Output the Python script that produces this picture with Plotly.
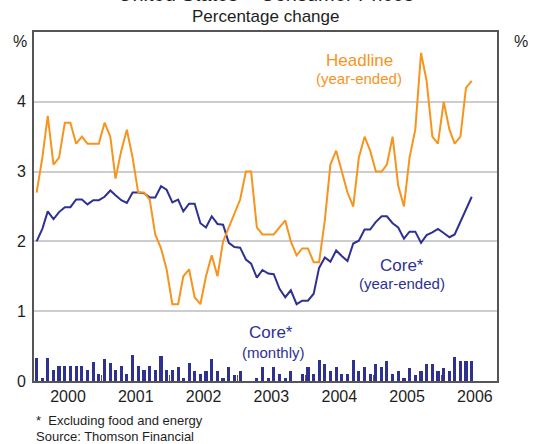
import pandas as pd
import plotly.graph_objects as go

# ---- data (monthly, Jan 2000 - Jun 2006) ----
start_month = "2000-01-01"
n_months = 78

headline = [
    2.7, 3.2, 3.8, 3.1, 3.2, 3.7, 3.7, 3.4, 3.5, 3.4, 3.4, 3.4,
    3.7, 3.5, 2.9, 3.3, 3.6, 3.2, 2.7, 2.7, 2.6, 2.1, 1.9, 1.6,
    1.1, 1.1, 1.5, 1.6, 1.2, 1.1, 1.5, 1.8, 1.5, 2.0, 2.2, 2.4,
    2.6, 3.0, 3.0, 2.2, 2.1, 2.1, 2.1, 2.2, 2.3, 2.0, 1.8, 1.9,
    1.9, 1.7, 1.7, 2.3, 3.1, 3.3, 3.0, 2.7, 2.5, 3.2, 3.5, 3.3,
    3.0, 3.0, 3.1, 3.5, 2.8, 2.5, 3.2, 3.6, 4.7, 4.3, 3.5, 3.4,
    4.0, 3.6, 3.4, 3.5, 4.2, 4.3,
]

core_year_ended = [
    2.00, 2.18, 2.43, 2.32, 2.42, 2.49, 2.49, 2.60, 2.60, 2.53, 2.59, 2.59,
    2.64, 2.73, 2.66, 2.59, 2.55, 2.70, 2.70, 2.69, 2.63, 2.63, 2.79, 2.74,
    2.56, 2.60, 2.43, 2.54, 2.54, 2.26, 2.20, 2.36, 2.25, 2.24, 1.98, 1.92,
    1.91, 1.74, 1.68, 1.48, 1.59, 1.54, 1.53, 1.32, 1.20, 1.30, 1.10, 1.15,
    1.15, 1.25, 1.62, 1.77, 1.71, 1.87, 1.79, 1.72, 1.97, 2.01, 2.17, 2.17,
    2.28, 2.36, 2.36, 2.26, 2.20, 2.04, 2.14, 2.14, 1.98, 2.09, 2.13, 2.18,
    2.12, 2.06, 2.10, 2.28, 2.44, 2.64,
]

core_monthly = [
    0.33, 0.05, 0.33, 0.16, 0.21, 0.21, 0.21, 0.21, 0.21, 0.16, 0.27, 0.10,
    0.31, 0.26, 0.16, 0.21, 0.10, 0.37, 0.21, 0.16, 0.21, 0.16, 0.36, 0.16,
    0.16, 0.20, 0.04, 0.26, 0.14, 0.10, 0.14, 0.31, 0.14, 0.04, 0.20, 0.09,
    0.14, 0.00, 0.00, 0.04, 0.20, 0.04, 0.20, 0.10, 0.04, 0.14, 0.00, 0.10,
    0.20, 0.10, 0.30, 0.24, 0.14, 0.20, 0.10, 0.10, 0.30, 0.14, 0.20, 0.10,
    0.24, 0.20, 0.29, 0.10, 0.14, 0.04, 0.19, 0.09, 0.14, 0.24, 0.24, 0.14,
    0.19, 0.14, 0.34, 0.29, 0.29, 0.29,
]

years = ["2000", "2001", "2002", "2003", "2004", "2005", "2006"]
y_ticks = [0, 1, 2, 3, 4]

ORANGE = "#F7941D"
NAVY = "#2E3192"
AXIS = "#555555"
GRID = "#CDCDCD"
TEXT = "#1E1E1E"
FONT = "Liberation Sans, Arial, sans-serif"

dates = pd.date_range(start_month, periods=n_months, freq="MS") + pd.Timedelta(days=14)
year_starts = [f"{y}-01-01" for y in years[1:]]
year_mids = [f"{y}-07-02" for y in years]

fig = go.Figure()
fig.add_trace(go.Bar(x=dates, y=core_monthly, marker_color=NAVY, marker_line_width=0,
                     width=17 * 86400000, showlegend=False))
fig.add_trace(go.Scatter(x=dates, y=core_year_ended, mode="lines",
                         line=dict(color=NAVY, width=2), showlegend=False))
fig.add_trace(go.Scatter(x=dates, y=headline, mode="lines",
                         line=dict(color=ORANGE, width=2), showlegend=False))

fig.update_layout(
    width=534, height=444,
    margin=dict(l=34, r=37, t=32, b=63, autoexpand=False),
    paper_bgcolor="white", plot_bgcolor="white",
    font=dict(family=FONT, size=16, color=TEXT),
    bargap=0,
    xaxis=dict(
        type="date", range=["2000-01-01", "2006-10-29"], automargin=False,
        tickmode="array", tickvals=year_mids, ticktext=years,
        ticks="", showgrid=False, zeroline=False,
        showline=True, linecolor=AXIS, linewidth=2, mirror=True,
        tickfont=dict(size=16),
        minor=dict(tickmode="array", tickvals=year_starts, ticks="inside",
                   ticklen=6, tickcolor=AXIS, tickwidth=1, showgrid=False),
    ),
    yaxis=dict(
        range=[0, 5], tickmode="array", tickvals=y_ticks, automargin=False,
        ticktext=[str(v) for v in y_ticks],
        showgrid=True, gridcolor=GRID, gridwidth=2, zeroline=False,
        showline=True, linecolor=AXIS, linewidth=2, mirror=True,
        ticks="outside", ticklen=3, tickcolor="rgba(0,0,0,0)",
        tickfont=dict(size=16),
    ),
    yaxis2=dict(
        range=[0, 5], tickmode="array", tickvals=y_ticks, automargin=False,
        ticktext=[str(v) for v in y_ticks],
        overlaying="y", side="right", anchor="x",
        showgrid=False, zeroline=False, showline=False,
        ticks="outside", ticklen=17, tickcolor="rgba(0,0,0,0)",
        tickfont=dict(size=16),
    ),
)

ann = [
    dict(text="United States – Consumer Prices", x=0.5, y=1.0725, xref="paper", yref="paper",
         xanchor="center", yanchor="bottom", font=dict(size=20, color=TEXT), showarrow=False),
    dict(text="Percentage change", x=0.5, y=1.044, xref="paper", yref="paper",
         xanchor="center", yanchor="middle", font=dict(size=17, color=TEXT), showarrow=False),
    dict(text="%", x=-0.030, y=0.972, xref="paper", yref="paper",
         xanchor="center", yanchor="middle", font=dict(size=16, color=TEXT), showarrow=False),
    dict(text="%", x=1.051, y=0.972, xref="paper", yref="paper",
         xanchor="center", yanchor="middle", font=dict(size=16, color=TEXT), showarrow=False),
    dict(text="Headline", x=0.702, y=0.919, xref="paper", yref="paper",
         xanchor="center", yanchor="middle", font=dict(size=17, color=ORANGE), showarrow=False),
    dict(text="(year-ended)", x=0.701, y=0.866, xref="paper", yref="paper",
         xanchor="center", yanchor="middle", font=dict(size=15, color=ORANGE), showarrow=False),
    dict(text="Core*", x=0.795, y=0.332, xref="paper", yref="paper",
         xanchor="center", yanchor="middle", font=dict(size=17, color=NAVY), showarrow=False),
    dict(text="(year-ended)", x=0.795, y=0.280, xref="paper", yref="paper",
         xanchor="center", yanchor="middle", font=dict(size=15, color=NAVY), showarrow=False),
    dict(text="Core*", x=0.512, y=0.138, xref="paper", yref="paper",
         xanchor="center", yanchor="middle", font=dict(size=17, color=NAVY), showarrow=False),
    dict(text="(monthly)", x=0.518, y=0.083, xref="paper", yref="paper",
         xanchor="center", yanchor="middle", font=dict(size=15, color=NAVY), showarrow=False),
    dict(text="*  Excluding food and energy", x=0.0, y=-0.112, xref="paper", yref="paper",
         xanchor="left", yanchor="middle", font=dict(size=13, color=TEXT), showarrow=False),
    dict(text="Source: Thomson Financial", x=0.0, y=-0.158, xref="paper", yref="paper",
         xanchor="left", yanchor="middle", font=dict(size=13, color=TEXT), showarrow=False),
]
fig.update_layout(annotations=ann)

fig.write_html("out.html", config={"displayModeBar": False},
               post_script="document.body.style.margin='0';document.body.style.padding='0';")
